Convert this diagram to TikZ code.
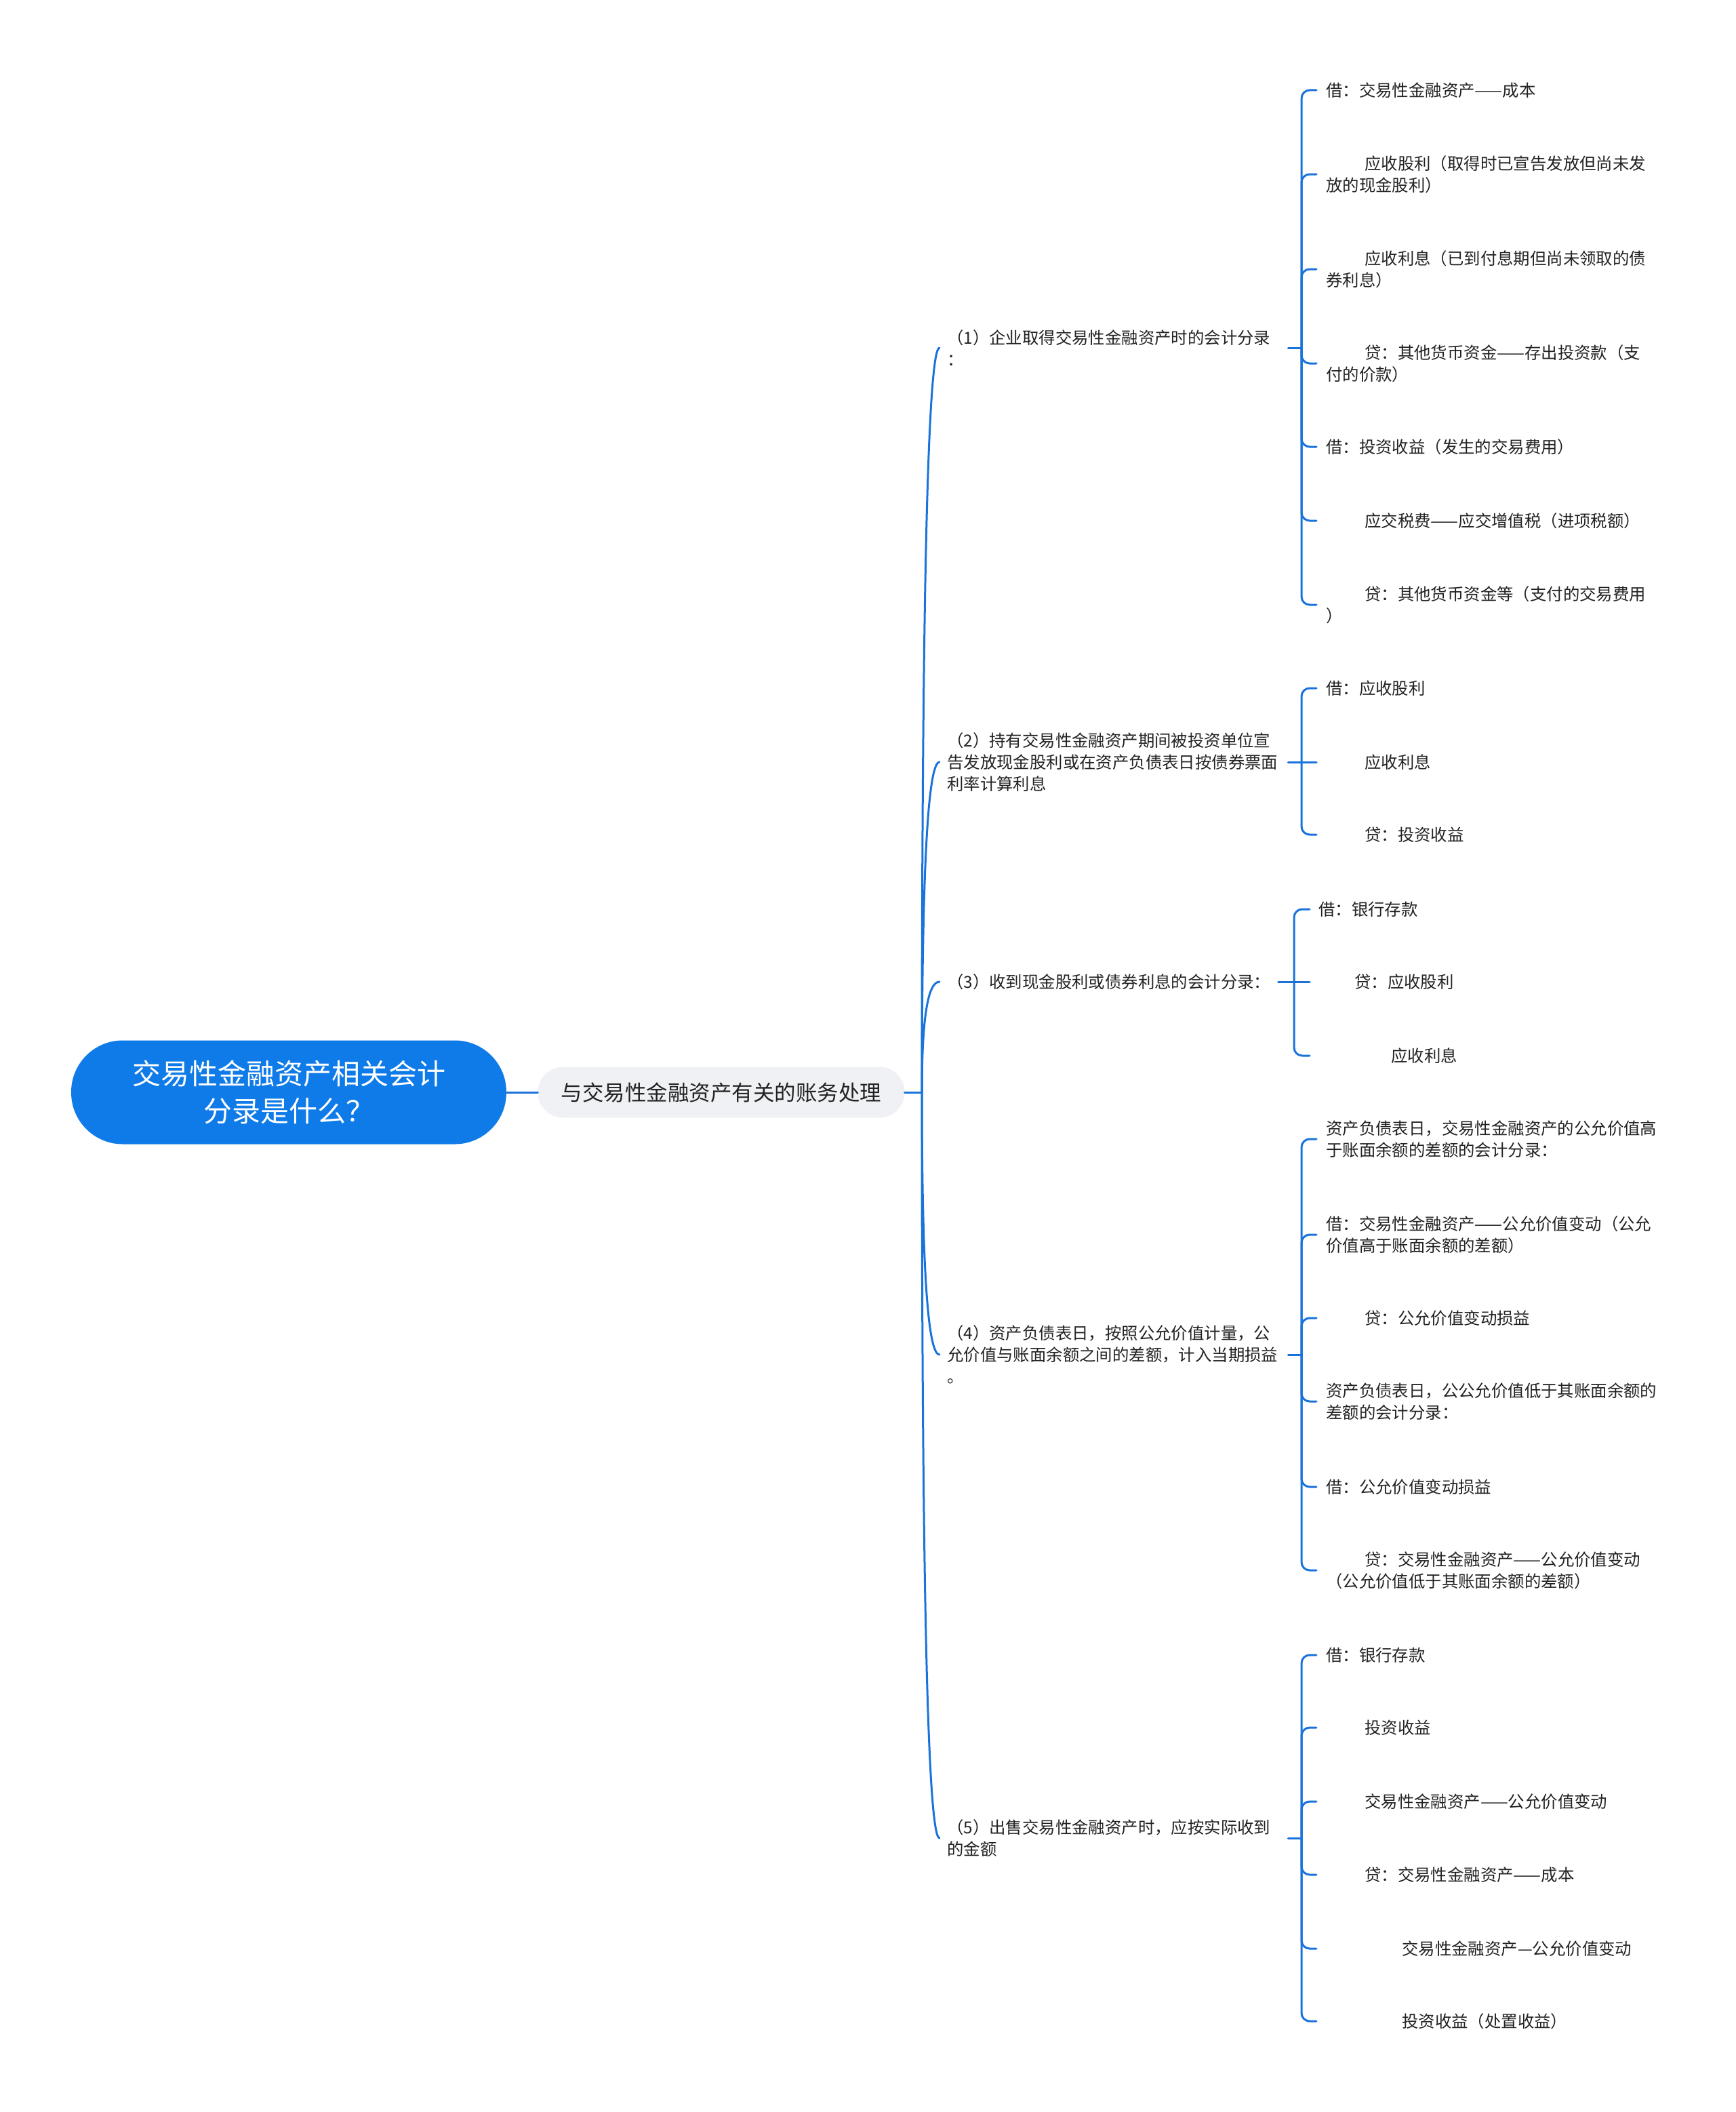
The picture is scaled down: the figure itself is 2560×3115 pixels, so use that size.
\documentclass[tikz,border=0pt]{standalone}
\usepackage{fontspec}
\setmainfont{Noto Sans CJK SC}
\usetikzlibrary{calc}
\definecolor{rootblue}{HTML}{0F7BE8}
\definecolor{linkblue}{HTML}{1A73DB}
\definecolor{subgray}{HTML}{EFF1F4}
\definecolor{txt}{HTML}{222222}
\tikzset{
  link/.style={draw=linkblue, line width=3pt, line cap=round},
  rootnode/.style={fill=rootblue, text=white, rounded corners=76pt, minimum width=642pt, minimum height=153pt, align=center, font=\fontsize{42pt}{55pt}\selectfont, inner sep=0pt},
  subnode/.style={fill=subgray, text=txt, rounded corners=37pt, minimum width=541pt, minimum height=75pt, align=center, font=\fontsize{31.5pt}{38pt}\selectfont, inner sep=0pt},
  secnode/.style={text=txt, align=left, font=\fontsize{24.4pt}{32pt}\selectfont, inner xsep=11pt, inner ysep=4pt, anchor=west},
  leafnode/.style={text=txt, align=left, font=\fontsize{24.4pt}{32pt}\selectfont, inner xsep=14pt, inner ysep=4pt, anchor=west},
}
\newcommand{\curvelink}[2]{\draw[link] (#1) .. controls ($(#1)!0.667!(#1 |- #2.west)$) and ($(#2.west)!0.667!(#1 |- #2.west)$) .. (#2.west);}
\newcommand{\bracelink}[2]{\draw[link, rounded corners=12pt] (#1) |- (#2.west);}
\begin{document}
\begin{tikzpicture}[x=1pt, y=-1pt]
\useasboundingbox (0,0) rectangle (2560,3115);

% root and first level
\node[rootnode] (root) at (426,1611) {交易性金融资产相关会计\\分录是什么？};
\node[subnode] (main) at (1064,1611) {与交易性金融资产有关的账务处理};
\draw[link] (root.east) -- (main.west);
\coordinate (jt) at (1360,1611);
\draw[link] (main.east) -- (jt);

% second level
\node[secnode, text width=492pt] (n1) at (1386,513) {（1）企业取得交易性金融资产时的会计分录\\：};
\node[secnode, text width=492pt] (n2) at (1386,1124) {（2）持有交易性金融资产期间被投资单位宣\\告发放现金股利或在资产负债表日按债券票面\\利率计算利息};
\node[secnode] (n3) at (1386,1448) {（3）收到现金股利或债券利息的会计分录：};
\node[secnode, text width=492pt] (n4) at (1386,1998) {（4）资产负债表日，按照公允价值计量，公\\允价值与账面余额之间的差额，计入当期损益\\。};
\node[secnode, text width=492pt] (n5) at (1386,2711) {（5）出售交易性金融资产时，应按实际收到\\的金额};
\curvelink{jt}{n1}
\curvelink{jt}{n2}
\curvelink{jt}{n3}
\curvelink{jt}{n4}
\curvelink{jt}{n5}

% group 1
\coordinate (j1) at (1920,513);
\draw[link] (n1.east) -- (j1);
\node[leafnode] (a1) at (1942,133) {借：交易性金融资产——成本};
\node[leafnode] (a2) at (1942,257) {\hspace*{57pt}应收股利（取得时已宣告发放但尚未发\\放的现金股利）};
\node[leafnode] (a3) at (1942,397) {\hspace*{57pt}应收利息（已到付息期但尚未领取的债\\券利息）};
\node[leafnode] (a4) at (1942,536) {\hspace*{57pt}贷：其他货币资金——存出投资款（支\\付的价款）};
\node[leafnode] (a5) at (1942,659) {借：投资收益（发生的交易费用）};
\node[leafnode] (a6) at (1942,768) {\hspace*{57pt}应交税费——应交增值税（进项税额）};
\node[leafnode] (a7) at (1942,892) {\hspace*{57pt}贷：其他货币资金等（支付的交易费用\\）};
\foreach \c in {a1,a2,a3,a4,a5,a6,a7} {\bracelink{j1}{\c}}

% group 2
\coordinate (j2) at (1920,1124);
\draw[link] (n2.east) -- (j2);
\node[leafnode] (b1) at (1942,1015) {借：应收股利};
\node[leafnode] (b2) at (1942,1124) {\hspace*{57pt}应收利息};
\node[leafnode] (b3) at (1942,1231) {\hspace*{57pt}贷：投资收益};
\bracelink{j2}{b1}
\draw[link] (j2) -- (b2.west);
\bracelink{j2}{b3}

% group 3
\coordinate (j3) at (1909,1448);
\draw[link] (n3.east) -- (j3);
\node[leafnode, inner xsep=13pt] (c1) at (1932,1341) {借：银行存款};
\node[leafnode, inner xsep=13pt] (c2) at (1932,1448) {\hspace*{53pt}贷：应收股利};
\node[leafnode, inner xsep=13pt] (c3) at (1932,1557) {\hspace*{107pt}应收利息};
\bracelink{j3}{c1}
\draw[link] (j3) -- (c2.west);
\bracelink{j3}{c3}

% group 4
\coordinate (j4) at (1920,1998);
\draw[link] (n4.east) -- (j4);
\node[leafnode] (d1) at (1942,1680) {资产负债表日，交易性金融资产的公允价值高\\于账面余额的差额的会计分录：};
\node[leafnode] (d2) at (1942,1821) {借：交易性金融资产——公允价值变动（公允\\价值高于账面余额的差额）};
\node[leafnode] (d3) at (1942,1944) {\hspace*{57pt}贷：公允价值变动损益};
\node[leafnode] (d4) at (1942,2067) {资产负债表日，公公允价值低于其账面余额的\\差额的会计分录：};
\node[leafnode] (d5) at (1942,2193) {借：公允价值变动损益};
\node[leafnode] (d6) at (1942,2316) {\hspace*{57pt}贷：交易性金融资产——公允价值变动\\（公允价值低于其账面余额的差额）};
\foreach \c in {d1,d2,d3,d4,d5,d6} {\bracelink{j4}{\c}}

% group 5
\coordinate (j5) at (1920,2711);
\draw[link] (n5.east) -- (j5);
\node[leafnode] (e1) at (1942,2441) {借：银行存款};
\node[leafnode] (e2) at (1942,2548) {\hspace*{57pt}投资收益};
\node[leafnode] (e3) at (1942,2657) {\hspace*{57pt}交易性金融资产——公允价值变动};
\node[leafnode] (e4) at (1942,2765) {\hspace*{57pt}贷：交易性金融资产——成本};
\node[leafnode] (e5) at (1942,2874) {\hspace*{112pt}交易性金融资产—公允价值变动};
\node[leafnode] (e6) at (1942,2981) {\hspace*{112pt}投资收益（处置收益）};
\foreach \c in {e1,e2,e3,e4,e5,e6} {\bracelink{j5}{\c}}
\end{tikzpicture}
\end{document}
